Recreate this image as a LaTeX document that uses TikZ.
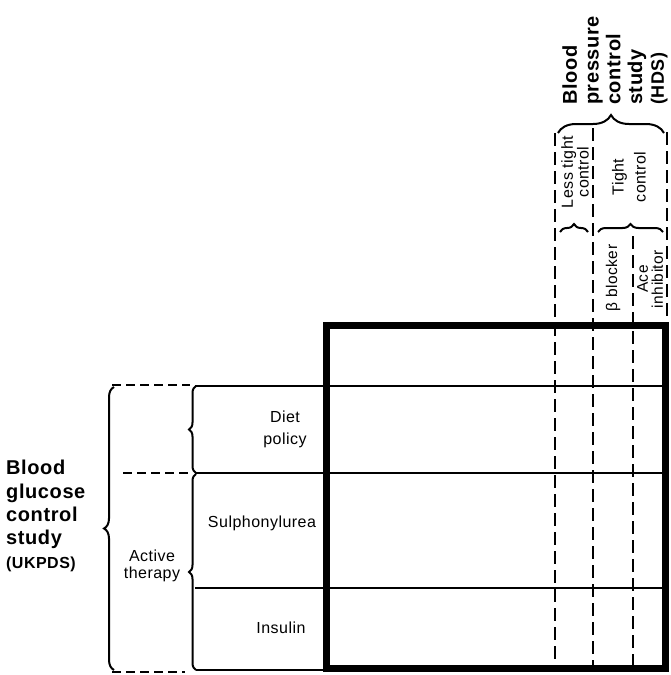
\documentclass[tikz,border=0pt]{standalone}
\usepackage{fontspec}
\setmainfont{Liberation Sans}[LetterSpace=3]
\usetikzlibrary{decorations.pathreplacing}
\tikzset{
  outerbox/.style={line width=7pt},
  hrule/.style={line width=1.3pt},
  dashrule/.style={line width=1.3pt,dash pattern=on 9pt off 5pt},
  dashcol/.style={line width=1.4pt,dash pattern=on 13pt off 6pt},
  curly/.style={decorate,decoration={brace,amplitude=#1},line width=2pt},
  bighead/.style={font=\fontsize{20}{23.3}\selectfont\bfseries,align=left,inner sep=0pt},
  cell/.style={font=\fontsize{16}{22}\selectfont,align=center,inner sep=0pt},
}

\begin{document}
\begin{tikzpicture}[x=1pt,y=-1pt]
    \useasboundingbox (0,0) rectangle (670,675);

    % treatment grid
    \draw[outerbox] (326,325) rectangle (665,668);
    \draw[hrule] (195,386) -- (665,386);
    \draw[hrule] (195,473) -- (665,473);
    \draw[hrule] (195,588) -- (665,588);
    \draw[hrule] (196,670) -- (326,670);

    \draw[dashrule] (112,385) -- (190,385);
    \draw[dashrule] (123,473) -- (190,473);
    \draw[dashrule] (112,672) -- (185,672);

    \draw[dashcol] (555,133) -- (555,668);
    \draw[dashcol] (593,128) -- (593,668);
    \draw[dashcol] (633,236) -- (633,668);
    \draw[dashcol] (667,132) -- (667,325);

    % braces
    \draw[curly=10] (114,670) -- (114,387);
    \draw[curly=7] (196,473) -- (196,386);
    \draw[curly=7] (196,670) -- (196,474);
    \draw[curly=18] (558,133) -- (664,133);
    \draw[curly=8] (560,232) -- (588,232);
    \draw[curly=8] (598,232) -- (663,232);

    % glucose study
    \node[bighead,anchor=west] (ukpds) at (6,516)
      {Blood\\glucose\\control\\study\\{\fontsize{16}{18}\selectfont(UKPDS)}};
    \node[cell] (diet) at (285,429) {Diet\\policy};
    \node[cell] (sulph) at (262,523) {Sulphonylurea};
    \node[cell,font=\fontsize{16}{17}\selectfont] (active) at (152,566) {Active\\therapy};
    \node[cell] (insulin) at (281,628) {Insulin};

    % pressure study
    \node[bighead,rotate=90,anchor=west,font=\fontsize{20}{21.7}\selectfont\bfseries] (hds) at (615,105)
      {Blood\\pressure\\control\\study\\{\fontsize{18}{20}\selectfont(HDS)}};
    \node[cell,rotate=90,font=\fontsize{16}{14.5}\selectfont] (less) at (575,172) {Less tight\\control};
    \node[cell,rotate=90,font=\fontsize{16}{22}\selectfont] (tight) at (629,177) {Tight\\control};
    \node[cell,rotate=90,font=\fontsize{15.5}{15}\selectfont] (beta) at (613,278) {β blocker};
    \node[cell,rotate=90,font=\fontsize{15.5}{15}\selectfont] (ace) at (650,279) {Ace\\inhibitor};
\end{tikzpicture}
\end{document}
